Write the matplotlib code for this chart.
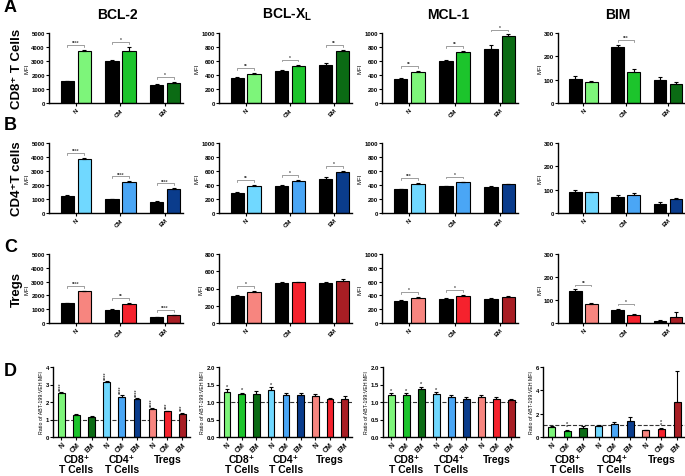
import numpy as np
import matplotlib
matplotlib.use('Agg')
import matplotlib.pyplot as plt

plt.rcParams['font.family'] = ['Liberation Sans', 'DejaVu Sans']
plt.rcParams['font.weight'] = 'bold'
plt.rcParams['axes.linewidth'] = 1.0

subsets = ['N', 'CM', 'EM']
proteins = ['BCL-2', 'BCL-X$_\\mathregular{L}$', 'MCL-1', 'BIM']
row_names = ['CD8⁺ T Cells', 'CD4⁺T cells', 'Tregs']

# MFI, vehicle (black) and ABT-199 (coloured), per protein, per subset
cd8_veh = [[1550, 3000, 1300], [360, 455, 545], [345, 595, 775], [105, 238, 100]]
cd8_veh_err = [[30, 80, 30], [8, 10, 25], [15, 20, 50], [10, 10, 12]]
cd8_abt = [[3750, 3750, 1450], [420, 535, 740], [445, 730, 955], [88, 135, 82]]
cd8_abt_err = [[60, 250, 50], [8, 15, 20], [10, 15, 25], [5, 10, 6]]
cd8_sig = [['****', '*', '*'], ['**', '*', '**'], ['**', '**', '*'], ['', '***', '']]

cd4_veh = [[1250, 980, 820], [290, 385, 490], [340, 380, 375], [92, 70, 40]]
cd4_veh_err = [[40, 40, 20], [15, 15, 25], [10, 10, 10], [6, 8, 6]]
cd4_abt = [[3850, 2200, 1720], [390, 460, 585], [420, 440, 410], [88, 78, 58]]
cd4_abt_err = [[60, 60, 40], [10, 12, 15], [10, 10, 10], [4, 8, 8]]
cd4_sig = [['****', '****', '****'], ['**', '*', '*'], ['***', '*', ''], ['', '', '']]

treg_veh = [[1450, 950, 420], [310, 460, 460], [320, 350, 355], [138, 55, 10]]
treg_veh_err = [[30, 30, 30], [15, 10, 10], [10, 10, 10], [8, 8, 4]]
treg_abt = [[2300, 1400, 550], [360, 470, 490], [365, 395, 375], [82, 35, 28]]
treg_abt_err = [[30, 40, 40], [10, 10, 20], [10, 10, 10], [4, 5, 18]]
treg_sig = [['****', '**', '****'], ['*', '', ''], ['*', '*', ''], ['**', '*', '']]

y_max = [[5000, 1000, 1000, 300], [5000, 1000, 1000, 300], [5000, 800, 1000, 300]]
y_step = [1000, 200, 200, 100]

# ratio ABT-199 : VEH MFI, 9 bars (CD8 N/CM/EM, CD4 N/CM/EM, Treg N/CM/EM)
ratio_bcl2 = [2.5, 1.25, 1.15, 3.12, 2.28, 2.15, 1.6, 1.47, 1.3]
ratio_bcl2_err = [0.07, 0.06, 0.04, 0.07, 0.1, 0.08, 0.04, 0.04, 0.1]
ratio_bclxl = [1.3, 1.22, 1.23, 1.35, 1.2, 1.2, 1.18, 1.08, 1.1]
ratio_bclxl_err = [0.06, 0.05, 0.08, 0.07, 0.05, 0.06, 0.05, 0.04, 0.06]
ratio_mcl1 = [1.2, 1.2, 1.37, 1.24, 1.15, 1.1, 1.15, 1.1, 1.05]
ratio_mcl1_err = [0.05, 0.05, 0.06, 0.04, 0.04, 0.05, 0.04, 0.05, 0.04]
ratio_bim = [0.85, 0.55, 0.8, 0.95, 1.1, 1.4, 0.6, 0.65, 3.0]
ratio_bim_err = [0.08, 0.05, 0.12, 0.05, 0.15, 0.35, 0.04, 0.15, 2.7]
ratio_sig = [
    ['****', '', '', '****', '****', '****', '****', '***', '***'],
    ['*', '*', '', '*', '', '', '', '', ''],
    ['*', '*', '*', '*', '', '', '', '', ''],
    ['', '**', '', '', '', '', '', '**', ''],
]
ratio_max = [4, 2.0, 2.0, 6]
ratio_step = [1, 0.5, 0.5, 2]

colors = [
    ['#7df57a', '#1cc42c', '#0b6b14'],
    ['#70d8ff', '#4aa6f5', '#0a3c8c'],
    ['#f7857f', '#f5222d', '#a81e24'],
]

W, H = 685, 477
fig = plt.figure(figsize=(W / 100, H / 100), dpi=100)


def px_axes(x0, x1, y0, y1):
    return fig.add_axes([x0 / W, 1 - y1 / H, (x1 - x0) / W, (y1 - y0) / H])


def style(ax, ymax, step, fmt):
    for s in ['top', 'right']:
        ax.spines[s].set_visible(False)
    ax.set_ylim(0, ymax)
    ticks = np.arange(0, ymax + step / 2, step)
    ax.set_yticks(ticks)
    ax.set_yticklabels([fmt.format(t) for t in ticks])
    ax.tick_params(axis='both', labelsize=4.3, length=2, width=0.8, pad=1)


col_x = [(49, 183), (219, 352), (382, 518), (558, 685)]
row_y = [(34, 104), (144, 214), (255, 324)]

rows = [
    (cd8_veh, cd8_veh_err, cd8_abt, cd8_abt_err, cd8_sig),
    (cd4_veh, cd4_veh_err, cd4_abt, cd4_abt_err, cd4_sig),
    (treg_veh, treg_veh_err, treg_abt, treg_abt_err, treg_sig),
]

x = np.arange(3)
bw = 0.3
for r, (veh, veh_e, abt, abt_e, sig) in enumerate(rows):
    for c in range(4):
        ax = px_axes(col_x[c][0], col_x[c][1], row_y[r][0], row_y[r][1])
        ymax = y_max[r][c]
        ax.bar(x - 0.19, veh[c], bw, color='black', edgecolor='black', lw=0.8,
               yerr=[np.zeros(3), veh_e[c]], error_kw=dict(lw=0.8, capsize=1.5, capthick=0.8))
        ax.bar(x + 0.19, abt[c], bw, color=colors[r], edgecolor='black', lw=0.8,
               yerr=[np.zeros(3), abt_e[c]], error_kw=dict(lw=0.8, capsize=1.5, capthick=0.8))
        for i in range(3):
            if not sig[c][i]:
                continue
            top = max(veh[c][i] + veh_e[c][i], abt[c][i] + abt_e[c][i]) + 0.07 * ymax
            ax.plot([i - 0.19, i - 0.19, i + 0.19, i + 0.19],
                    [top - 0.025 * ymax, top, top, top - 0.025 * ymax],
                    color='#777777', lw=0.5, clip_on=False)
            ax.text(i, top, sig[c][i], ha='center', va='bottom', fontsize=3.5,
                    color='#444444')
        ax.set_xlim(-0.6, 2.4)
        ax.set_xticks(x)
        ax.set_xticklabels(subsets, rotation=45, ha='right', rotation_mode='anchor')
        style(ax, ymax, y_step[c], '{:.0f}')
        ax.set_ylabel('MFI', fontsize=4.3, labelpad=1)

# panel D
d_col_x = [(53, 190), (219, 352), (383, 519), (543, 685)]
ratios = [
    (ratio_bcl2, ratio_bcl2_err),
    (ratio_bclxl, ratio_bclxl_err),
    (ratio_mcl1, ratio_mcl1_err),
    (ratio_bim, ratio_bim_err),
]
groups = ['CD8⁺\nT Cells', 'CD4⁺\nT Cells', 'Tregs']
xd = np.arange(9)
bar_colors = [col for row in colors for col in row]
fmts = ['{:.0f}', '{:.1f}', '{:.1f}', '{:.0f}']
for c, (vals, errs) in enumerate(ratios):
    ax = px_axes(d_col_x[c][0], d_col_x[c][1], 368, 438)
    ymax = ratio_max[c]
    ax.bar(xd, vals, 0.45, color=bar_colors, edgecolor='black', lw=0.8,
           yerr=[np.zeros(9), errs], error_kw=dict(lw=0.8, capsize=1.5, capthick=0.8))
    ax.axhline(1, color='#333333', lw=0.8, ls='--', zorder=0)
    for i in range(9):
        s = ratio_sig[c][i]
        if not s:
            continue
        if len(s) > 2:
            ax.text(xd[i], vals[i] + errs[i] + 0.03 * ymax, s, rotation=90,
                    ha='center', va='bottom', fontsize=4, color='#444444')
        else:
            ax.text(xd[i], vals[i] + errs[i] + 0.01 * ymax, '\n'.join(s), ha='center',
                    va='bottom', fontsize=4, color='#444444', linespacing=0.6)
    ax.set_xlim(-0.55, 8.5)
    ax.set_xticks(xd)
    ax.set_xticklabels(subsets * 3, rotation=45, ha='right', rotation_mode='anchor')
    style(ax, ymax, ratio_step[c], fmts[c])
    ax.tick_params(axis='x', labelsize=5)
    ax.set_ylabel('Ratio of ABT-199:VEH MFI', fontsize=3.8, labelpad=1)
    for g in range(3):
        ax.text(3 * g + 1, -0.24, groups[g], transform=ax.get_xaxis_transform(),
                ha='center', va='top', fontsize=7.5, linespacing=1.05)

# column titles, row labels, panel letters
title_x = [117, 287, 448, 618]
for c in range(4):
    fig.text(title_x[c] / W, 1 - 15 / H, proteins[c], ha='center', va='center', fontsize=10)
for r in range(3):
    yc = (row_y[r][0] + row_y[r][1]) / 2
    fig.text(17 / W, 1 - yc / H, row_names[r], rotation=90, ha='center', va='center',
             fontsize=9.5)
for letter, y in zip('ABCD', [8, 125, 247, 372]):
    fig.text(4 / W, 1 - y / H, letter, ha='left', va='center', fontsize=13)

fig.savefig('out.png', dpi=100)
